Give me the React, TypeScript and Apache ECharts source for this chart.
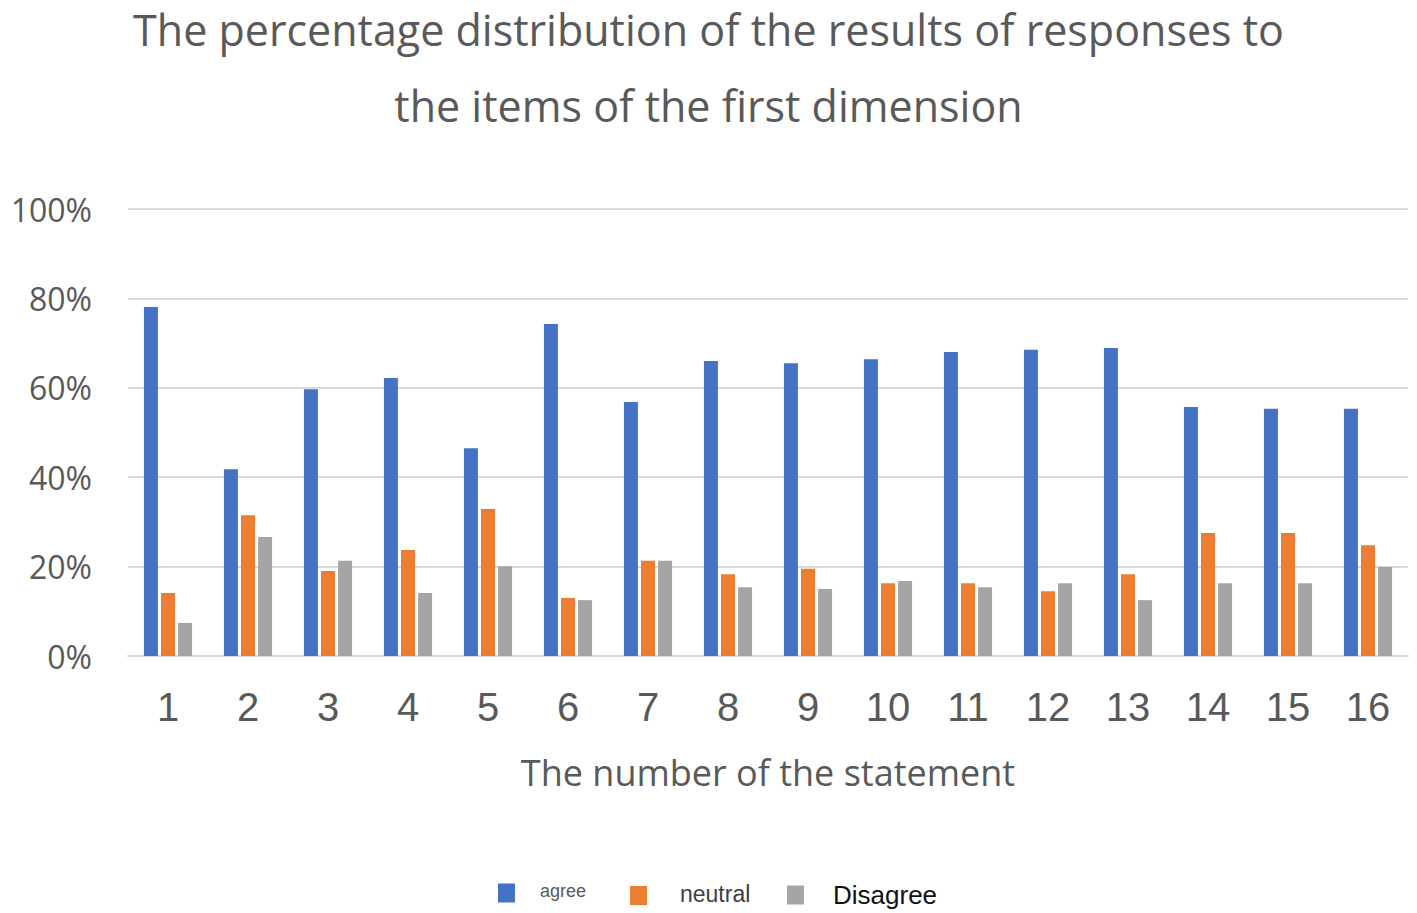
import React, { useEffect, useRef } from "react";
import * as echarts from "echarts";

const categories = ["1","2","3","4","5","6","7","8","9","10","11","12","13","14","15","16"];
const agree = [78.1, 41.8, 59.7, 62.2, 46.5, 74.3, 56.8, 66.0, 65.5, 66.4, 68.0, 68.5, 68.9, 55.7, 55.3, 55.3];
const neutral = [14.1, 31.5, 19.0, 23.7, 32.9, 13.0, 21.3, 18.3, 19.5, 16.3, 16.3, 14.5, 18.3, 27.5, 27.5, 24.8];
const disagree = [7.4, 26.6, 21.3, 14.1, 20.1, 12.5, 21.3, 15.4, 15.0, 16.8, 15.4, 16.3, 12.5, 16.3, 16.3, 19.9];
const yTicks = [0, 20, 40, 60, 80, 100];

const TITLE_LINES = [
  "The percentage distribution of the results of responses to",
  "the items of the first dimension",
];

export default function App() {
  const ref = useRef<HTMLDivElement>(null);
  useEffect(() => {
    document.body.style.margin = "0";
    const chart = echarts.init(ref.current!, null, { renderer: "svg" });
    const font = "Open Sans";
    const titleStyle = { fontFamily: font, fontSize: 43, fontWeight: "normal", color: "#595959" };
    chart.setOption({
      animation: false,
      backgroundColor: "#ffffff",
      title: [
        { text: TITLE_LINES[0], left: "center", top: 8, padding: 0, textStyle: titleStyle },
        { text: TITLE_LINES[1], left: "center", top: 84, padding: 0, textStyle: titleStyle },
      ],
      grid: { left: 128, right: 9, top: 209, bottom: 257, containLabel: false },
      legend: [
        {
          data: ["agree"], left: 498, top: 882, padding: 0, itemWidth: 17, itemHeight: 19, icon: "rect",
          formatter: () => "{a|agree}",
          textStyle: { rich: { a: { fontFamily: "Liberation Sans", fontSize: 18, color: "#595959", padding: [0, 0, 4, 20] } } },
        },
        {
          data: ["neutral"], left: 630, top: 882, padding: 0, itemWidth: 17, itemHeight: 19, icon: "rect",
          formatter: () => "{a|neutral}",
          textStyle: { rich: { a: { fontFamily: "Liberation Sans", fontSize: 23, color: "#404040", padding: [0, 0, 4, 28] } } },
        },
        {
          data: ["Disagree"], left: 787, top: 882, padding: 0, itemWidth: 17, itemHeight: 19, icon: "rect",
          formatter: () => "{a|Disagree}",
          textStyle: { rich: { a: { fontFamily: "Liberation Sans", fontSize: 26, color: "#111111", padding: [0, 0, 0, 24] } } },
        },
      ],
      xAxis: {
        type: "category",
        data: categories,
        name: "The number of the statement",
        nameLocation: "middle",
        nameGap: 98,
        nameTextStyle: { fontFamily: font, fontSize: 36, color: "#595959" },
        axisLine: { lineStyle: { color: "#D9D9D9", width: 2 } },
        axisTick: { show: false },
        axisLabel: { fontFamily: "Liberation Sans", fontSize: 40, color: "#595959", margin: 31 },
      },
      yAxis: {
        type: "value",
        min: yTicks[0],
        max: yTicks[yTicks.length - 1],
        interval: 20,
        axisLine: { show: false },
        axisTick: { show: false },
        axisLabel: { fontFamily: font, fontSize: 32, color: "#595959", margin: 36, formatter: "{value}%" },
        splitLine: { lineStyle: { color: "#D9D9D9", width: 2 } },
      },
      series: [
        { name: "agree", type: "bar", data: agree, barWidth: 14, barGap: "22%", itemStyle: { color: "#4472C4" } },
        { name: "neutral", type: "bar", data: neutral, barWidth: 14, barGap: "22%", itemStyle: { color: "#ED7D31" } },
        { name: "Disagree", type: "bar", data: disagree, barWidth: 14, barGap: "22%", itemStyle: { color: "#A5A5A5" } },
      ],
    });
    return () => chart.dispose();
  }, []);
  return <div ref={ref} style={{ width: 1417, height: 913 }} />;
}
